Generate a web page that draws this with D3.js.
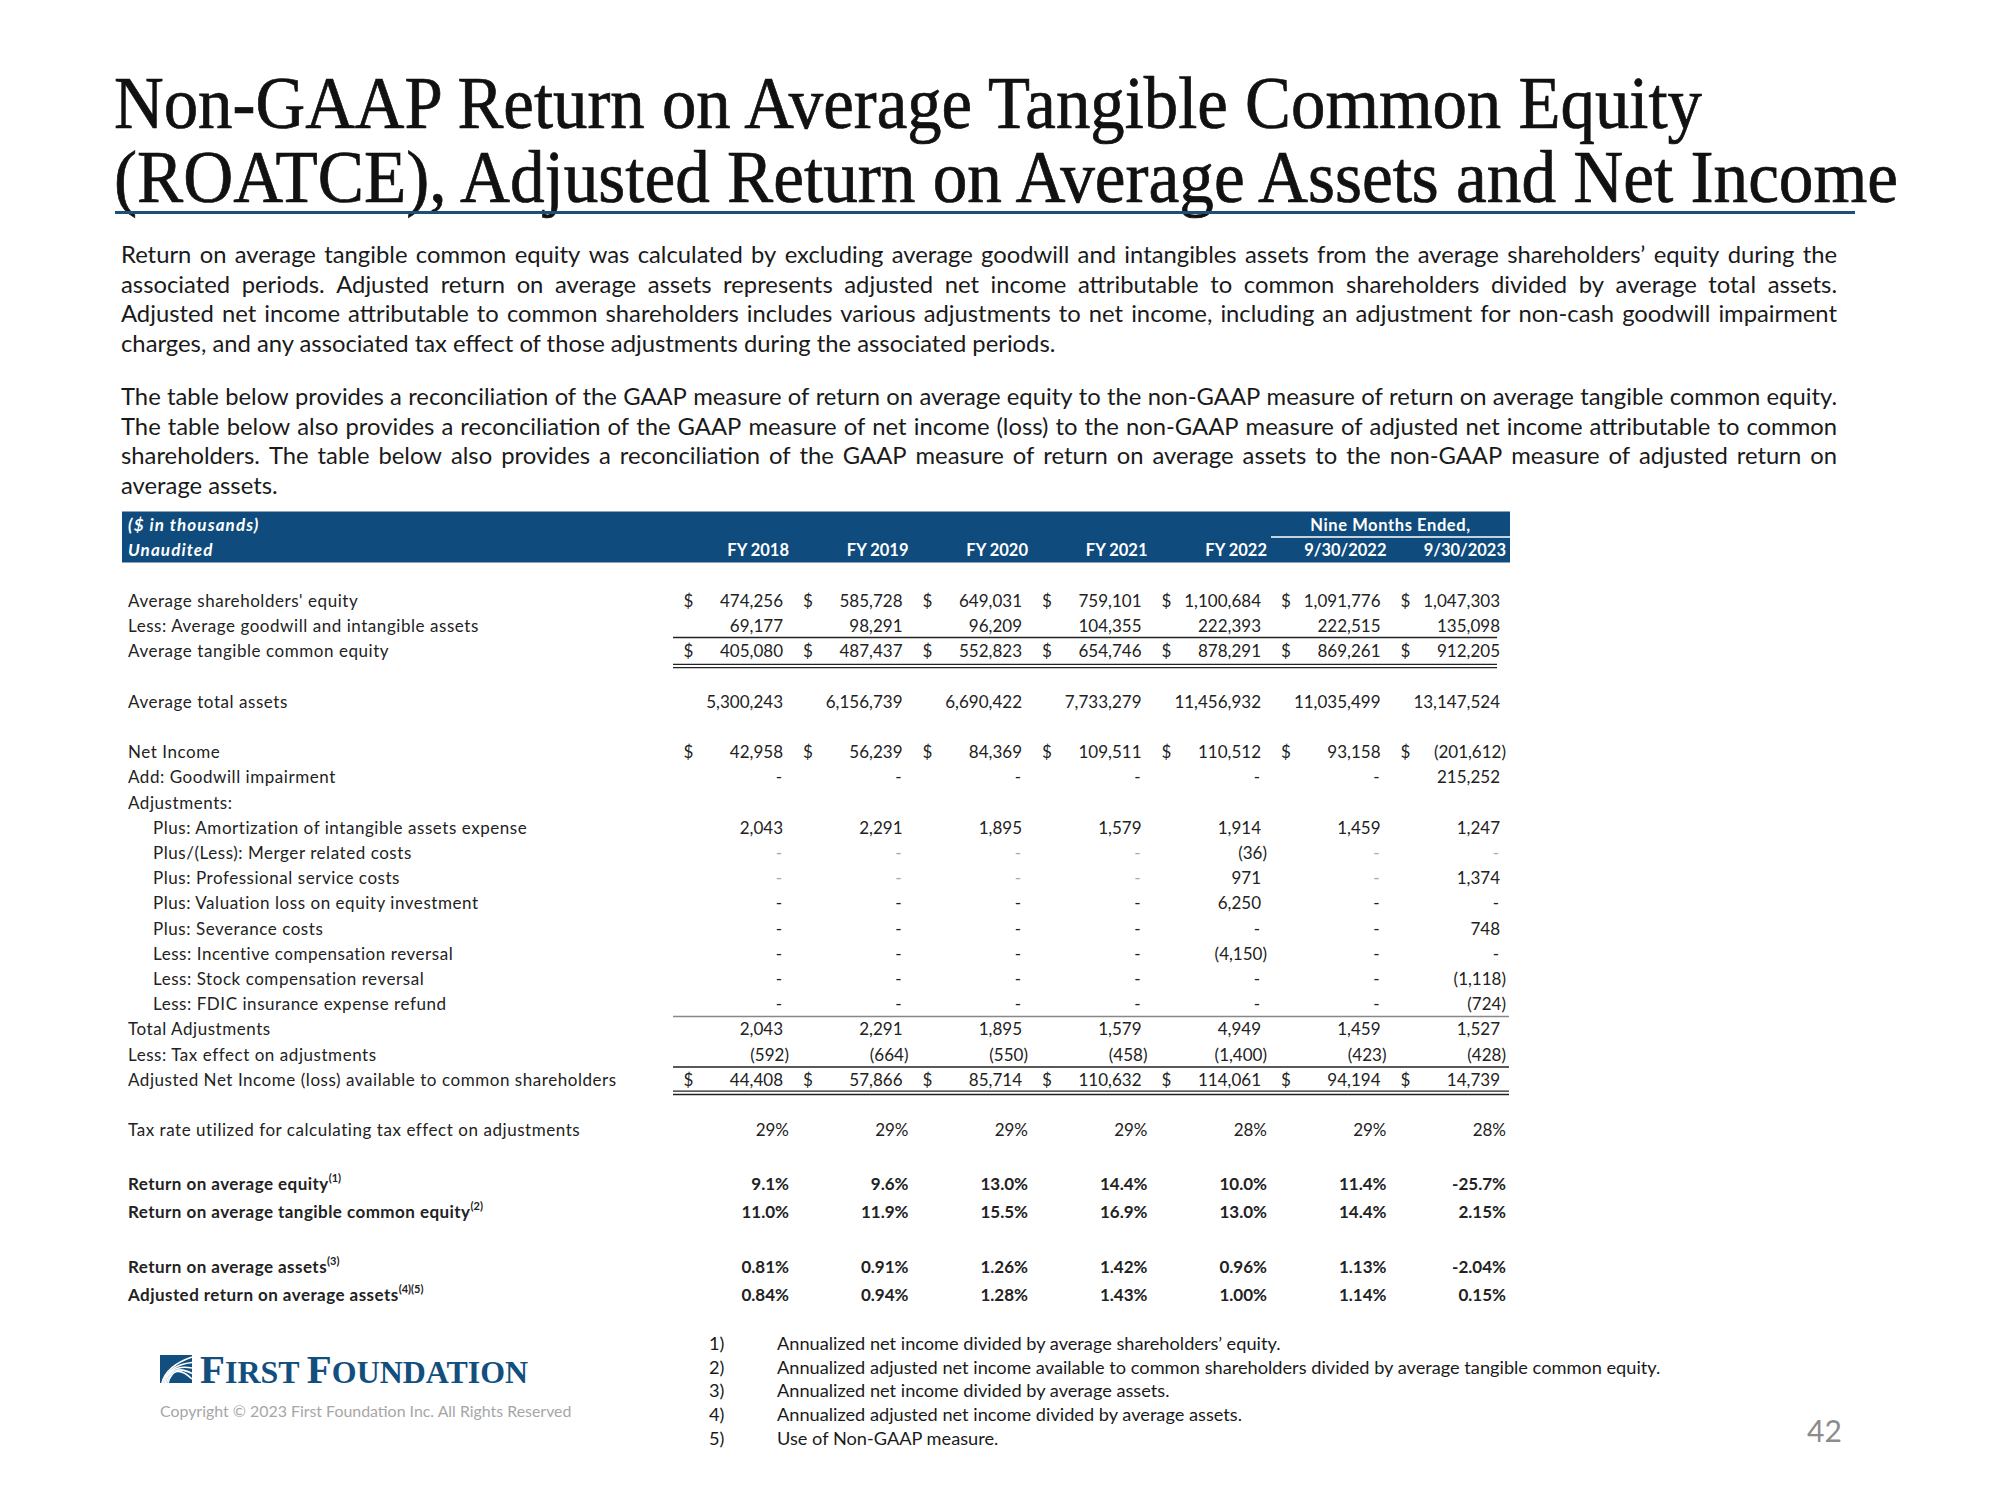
<!DOCTYPE html>
<html><head><meta charset="utf-8">
<script src="https://cdn.jsdelivr.net/npm/d3@7"></script>
<style>body{margin:0;background:#fff;} svg{display:block;}</style>
</head><body><svg id="c" width="2000" height="1500"></svg>
<script>
// ---------------- DATA ----------------
const titleLines = ["Non-GAAP Return on Average Tangible Common Equity",
  "(ROATCE), Adjusted Return on Average Assets and Net Income"];
const para1 = [
  "Return on average tangible common equity was calculated by excluding average goodwill and intangibles assets from the average shareholders’ equity during the",
  "associated periods. Adjusted return on average assets represents adjusted net income attributable to common shareholders divided by average total assets.",
  "Adjusted net income attributable to common shareholders includes various adjustments to net income, including an adjustment for non-cash goodwill impairment",
  "charges, and any associated tax effect of those adjustments during the associated periods."];
const para2 = [
  "The table below provides a reconciliation of the GAAP measure of return on average equity to the non-GAAP measure of return on average tangible common equity.",
  "The table below also provides a reconciliation of the GAAP measure of net income (loss) to the non-GAAP measure of adjusted net income attributable to common",
  "shareholders.  The table below also provides a reconciliation of the GAAP measure of return on average assets to the non-GAAP measure of adjusted return on",
  "average assets."];
const periods = ["FY 2018","FY 2019","FY 2020","FY 2021","FY 2022","9/30/2022","9/30/2023"];
const avgShareholdersEquity = [474256,585728,649031,759101,1100684,1091776,1047303];
const avgGoodwillIntangibles = [69177,98291,96209,104355,222393,222515,135098];
const avgTangibleEquity = [405080,487437,552823,654746,878291,869261,912205];
const avgTotalAssets = [5300243,6156739,6690422,7733279,11456932,11035499,13147524];
const netIncome = [42958,56239,84369,109511,110512,93158,-201612];
const goodwillImpairment = [null,null,null,null,null,null,215252];
const amortization = [2043,2291,1895,1579,1914,1459,1247];
const mergerCosts = [null,null,null,null,-36,null,null];
const professionalCosts = [null,null,null,null,971,null,1374];
const valuationLoss = [null,null,null,null,6250,null,null];
const severanceCosts = [null,null,null,null,null,null,748];
const incentiveReversal = [null,null,null,null,-4150,null,null];
const stockCompReversal = [null,null,null,null,null,null,-1118];
const fdicRefund = [null,null,null,null,null,null,-724];
const totalAdjustments = [2043,2291,1895,1579,4949,1459,1527];
const taxEffect = [-592,-664,-550,-458,-1400,-423,-428];
const adjustedNetIncome = [44408,57866,85714,110632,114061,94194,14739];
const taxRate = ["29%","29%","29%","29%","28%","29%","28%"];
const returnOnAvgEquity = ["9.1%","9.6%","13.0%","14.4%","10.0%","11.4%","-25.7%"];
const returnOnTangibleEquity = ["11.0%","11.9%","15.5%","16.9%","13.0%","14.4%","2.15%"];
const returnOnAvgAssets = ["0.81%","0.91%","1.26%","1.42%","0.96%","1.13%","-2.04%"];
const adjReturnOnAvgAssets = ["0.84%","0.94%","1.28%","1.43%","1.00%","1.14%","0.15%"];
const footnotes = ["Annualized net income divided by average shareholders’ equity.",
  "Annualized adjusted net income available to common shareholders divided by average tangible common equity.",
  "Annualized net income divided by average assets.",
  "Annualized adjusted net income divided by average assets.",
  "Use of Non-GAAP measure."];

// ---------------- TABLE STRUCTURE ----------------
const rows = [
  {label:"Average shareholders' equity", values:avgShareholdersEquity, dollar:true},
  {label:"Less: Average goodwill and intangible assets", values:avgGoodwillIntangibles},
  {label:"Average tangible common equity", values:avgTangibleEquity, dollar:true},
  {label:"Average total assets", values:avgTotalAssets},
  {label:"Net Income", values:netIncome, dollar:true},
  {label:"Add: Goodwill impairment", values:goodwillImpairment},
  {label:"Adjustments:", values:null},
  {label:"Plus: Amortization of intangible assets expense", values:amortization, indent:true},
  {label:"Plus/(Less): Merger related costs", values:mergerCosts, indent:true, lightDash:true},
  {label:"Plus: Professional service costs", values:professionalCosts, indent:true, lightDash:true},
  {label:"Plus: Valuation loss on equity investment", values:valuationLoss, indent:true},
  {label:"Plus: Severance costs", values:severanceCosts, indent:true},
  {label:"Less: Incentive compensation reversal", values:incentiveReversal, indent:true},
  {label:"Less: Stock compensation reversal", values:stockCompReversal, indent:true},
  {label:"Less: FDIC insurance expense refund", values:fdicRefund, indent:true},
  {label:"Total Adjustments", values:totalAdjustments},
  {label:"Less: Tax effect on adjustments", values:taxEffect},
  {label:"Adjusted Net Income (loss) available to common shareholders", values:adjustedNetIncome, dollar:true},
  {label:"Tax rate utilized for calculating tax effect on adjustments", values:taxRate, pct:true},
  {label:"Return on average equity", sup:"(1)", values:returnOnAvgEquity, pct:true, bold:true},
  {label:"Return on average tangible common equity", sup:"(2)", values:returnOnTangibleEquity, pct:true, bold:true},
  {label:"Return on average assets", sup:"(3)", values:returnOnAvgAssets, pct:true, bold:true},
  {label:"Adjusted return on average assets", sup:"(4)(5)", values:adjReturnOnAvgAssets, pct:true, bold:true}
];
const rowSlots = [0,1,2,4,6,7,8,9,10,11,12,13,14,15,16,17,18,19,21,23.15,24.25,26.45,27.55];

// ---------------- DRAW ----------------
const svg = d3.select("#c");
const SANS = "Lato, 'Open Sans', sans-serif";
const SERIF = "'Liberation Serif', 'DejaVu Serif', serif";

// Title
svg.append("g").selectAll("text").data(titleLines).join("text")
  .attr("x", 114).attr("y", (d,i)=> i===0 ? 128 : 202)
  .attr("font-family", SERIF).attr("font-size", 73).attr("fill", "#111")
  .attr("stroke", "#111").attr("stroke-width", 0.7)
  .attr("textLength", (d,i)=> i===0 ? 1588 : 1784).attr("lengthAdjust","spacingAndGlyphs")
  .text(d=>d);
svg.append("line").attr("x1",115).attr("x2",1855).attr("y1",212.5).attr("y2",212.5)
  .attr("stroke","#1f4e79").attr("stroke-width",3);

// Paragraphs (justified)
function justifiedLine(g, text, x, y, width, justify, size) {
  const words = text.split(" ").filter(w=>w.length);
  if (!justify) {
    g.append("text").attr("x",x).attr("y",y).attr("font-family",SANS).attr("font-size",size)
      .attr("fill","#1a1a1a").text(text);
    return;
  }
  const nodes = words.map(w => g.append("text").attr("y",y).attr("font-family",SANS)
      .attr("font-size",size).attr("fill","#1a1a1a").text(w));
  const widths = nodes.map(n=>n.node().getComputedTextLength());
  const total = d3.sum(widths);
  const gap = (width - total) / (words.length - 1);
  let cx = x;
  nodes.forEach((n,i)=>{ n.attr("x",cx); cx += widths[i] + gap; });
}
const pg = svg.append("g");
const p1y = [263, 292.5, 322, 351.5];
para1.forEach((t,i)=> justifiedLine(pg, t, 121, p1y[i], 1716, i<3, 23.8));
const p2y = [405, 434.5, 464, 493.5];
para2.forEach((t,i)=> justifiedLine(pg, t, 121, p2y[i], 1716, i<3, 23.8));

// Table
const x = d3.scaleBand().domain(periods).range([673.5, 1510]).paddingInner(0).paddingOuter(0);
const numRight = p => x(p) + x.bandwidth() - 10;
const y = d3.scaleLinear().domain([0, 1]).range([601, 626.2]);

// header band
const hdr = svg.append("g");
hdr.append("rect").attr("x",122).attr("y",511.5).attr("width",1388).attr("height",51)
  .attr("fill","#0f4c7d");
hdr.append("text").attr("x",128).attr("y",530.5).attr("font-family",SANS).attr("font-size",17)
  .attr("letter-spacing",1.1)
  .attr("font-weight","bold").attr("font-style","italic").attr("fill","#fff").text("($ in thousands)");
hdr.append("text").attr("x",128).attr("y",555.5).attr("font-family",SANS).attr("font-size",17)
  .attr("letter-spacing",1.1)
  .attr("font-weight","bold").attr("font-style","italic").attr("fill","#fff").text("Unaudited");
hdr.selectAll("text.col").data(periods).join("text").attr("class","col")
  .attr("x", p=> numRight(p)+6).attr("y",555.5).attr("text-anchor","end")
  .attr("font-family",SANS).attr("font-size",16.5).attr("font-weight","bold").attr("fill","#fff")
  .text(p=>p);
const nmx0 = x(periods[5]), nmx1 = x(periods[6]) + x.bandwidth();
hdr.append("text").attr("x",(nmx0+nmx1)/2).attr("y",530.5).attr("text-anchor","middle")
  .attr("font-family",SANS).attr("font-size",16.5).attr("font-weight","bold").attr("fill","#fff")
  .attr("letter-spacing",0.6)
  .text("Nine Months Ended,");
hdr.append("line").attr("x1",nmx0).attr("x2",nmx1).attr("y1",537).attr("y2",537)
  .attr("stroke","#fff").attr("stroke-width",1.5);

const fmt = d3.format(",");
const tg = svg.append("g").attr("font-family",SANS).attr("font-size",17).attr("fill","#222");
rows.forEach((r,ri)=>{
  const cy = y(rowSlots[ri]);
  const lab = tg.append("text").attr("x", r.indent ? 153 : 128).attr("y", cy).attr("dy","0.35em")
    .attr("letter-spacing", r.bold ? 0.45 : 0.55)
    .attr("font-weight", r.bold ? "bold" : null).text(r.label);
  if (r.sup) lab.append("tspan").attr("font-size",11).attr("letter-spacing",0).attr("dy","-0.75em").text(r.sup);
  if (!r.values) return;
  periods.forEach((p,ci)=>{
    const v = r.values[ci];
    const t = tg.append("text").attr("y",cy).attr("dy","0.35em").attr("text-anchor","end")
      .attr("font-weight", r.bold ? "bold" : null);
    if (r.pct) { t.attr("x", numRight(p)+6).text(v); }
    else if (v === null) { t.attr("x", numRight(p)-1).attr("fill", r.lightDash ? "#aaa" : "#222").text("-"); }
    else if (v < 0) { t.attr("x", numRight(p)+6).text("(" + fmt(-v) + ")"); }
    else { t.attr("x", numRight(p)).text(fmt(v)); }
    if (r.dollar) {
      tg.append("text").attr("x", x(p)+10).attr("y",cy).attr("dy","0.35em").text("$");
    }
  });
});

// rules
const rg = svg.append("g");
function rule(yy, x2, color, w) {
  rg.append("line").attr("x1",673).attr("x2",x2).attr("y1",yy).attr("y2",yy)
    .attr("stroke",color||"#222").attr("stroke-width",w||1.3);
}
rule(637.5, 1497);
rule(664.3, 1497); rule(667.6, 1497);
rule(1016.5, 1509, "#888", 1.3);
rule(1067, 1509);
rule(1091.2, 1509); rule(1094.5, 1509);

// Footnotes
const fg = svg.append("g").attr("font-family",SANS).attr("font-size",18.2).attr("fill","#1a1a1a");
const fy = [1350, 1373.5, 1397, 1420.5, 1444.5];
footnotes.forEach((f,i)=>{
  fg.append("text").attr("x",709).attr("y",fy[i]).text((i+1)+")");
  fg.append("text").attr("x",777).attr("y",fy[i]).text(f);
});

// Logo
const lg = svg.append("g");
lg.append("rect").attr("x",160).attr("y",1355).attr("width",32).attr("height",28).attr("fill","#124f7e");
[0,1,2,3,4].forEach(k=>{
  lg.append("path")
    .attr("d", `M${162+k*1.5},1383 Q${166+k*2},${1366-k*1} ${192},${1357+k*5.5}`)
    .attr("fill","none").attr("stroke","#fff").attr("stroke-width",1.6);
});
const lt = lg.append("text").attr("x",200).attr("y",1383).attr("font-family",SERIF)
  .attr("font-weight","bold").attr("fill","#124f7e").attr("textLength",328).attr("lengthAdjust","spacingAndGlyphs");
lt.append("tspan").attr("font-size",41).text("F");
lt.append("tspan").attr("font-size",32).text("IRST ");
lt.append("tspan").attr("font-size",41).text("F");
lt.append("tspan").attr("font-size",32).text("OUNDATION");
lg.append("text").attr("x",160).attr("y",1417).attr("font-family",SANS).attr("font-size",15.9)
  .attr("fill","#a6a6a6").text("Copyright © 2023 First Foundation Inc. All Rights Reserved");

// Page number
svg.append("text").attr("x",1807).attr("y",1442).attr("font-family",SANS).attr("font-size",30)
  .attr("fill","#8c8c8c").text("42");
</script></body></html>
